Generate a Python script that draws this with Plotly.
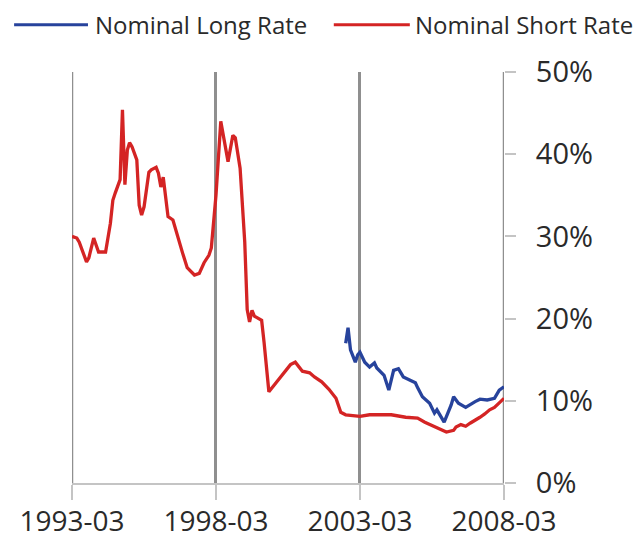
import plotly.graph_objects as go

# Nominal Short Rate (red)
short_dates = [
    "1993-03", "1993-05", "1993-06", "1993-09", "1993-10", "1993-12", "1994-02", "1994-05",
    "1994-07", "1994-08", "1994-09", "1994-11", "1994-12", "1995-01", "1995-02", "1995-03",
    "1995-04", "1995-06", "1995-07", "1995-08", "1995-09", "1995-11", "1995-12", "1996-02",
    "1996-03", "1996-04", "1996-05", "1996-07", "1996-09", "1996-11", "1997-01", "1997-03",
    "1997-06", "1997-08", "1997-10", "1997-12", "1998-01", "1998-03", "1998-05", "1998-08",
    "1998-10", "1998-11", "1999-01", "1999-03", "1999-04", "1999-05", "1999-06", "1999-07",
    "1999-10", "1999-11", "2000-01", "2000-04", "2000-07", "2000-10", "2000-12", "2001-03",
    "2001-06", "2001-08", "2001-11", "2002-02", "2002-05", "2002-07", "2002-09", "2002-12",
    "2003-03", "2003-07", "2003-11", "2004-04", "2004-10", "2005-03", "2005-06", "2005-09",
    "2005-12", "2006-03", "2006-06", "2006-07", "2006-09", "2006-11", "2007-01", "2007-03",
    "2007-05", "2007-07", "2007-09", "2007-11", "2008-01", "2008-03",
]
short_rate = [
    30.0, 29.8, 29.3, 26.9, 27.4, 29.8, 28.1, 28.1,
    31.6, 34.4, 35.3, 36.9, 45.4, 36.3, 40.5, 41.4,
    40.9, 39.3, 33.8, 32.6, 33.6, 37.8, 38.1, 38.4,
    37.7, 36.0, 37.2, 32.4, 32.0, 29.9, 28.0, 26.2,
    25.3, 25.5, 26.8, 27.7, 28.6, 35.0, 44.0, 39.1,
    42.3, 42.0, 38.3, 29.3, 21.1, 19.6, 21.0, 20.3,
    19.8, 17.1, 11.1, 12.2, 13.3, 14.4, 14.7, 13.6,
    13.4, 12.9, 12.3, 11.4, 10.3, 8.6, 8.3, 8.2,
    8.1, 8.3, 8.3, 8.3, 8.0, 7.9, 7.4, 7.0,
    6.7, 6.2, 6.4, 6.8, 7.1, 6.9, 7.3, 7.6,
    8.0, 8.4, 8.9, 9.2, 9.7, 10.3,
]

# Nominal Long Rate (blue)
long_dates = [
    "2002-09", "2002-10", "2002-11", "2003-01", "2003-02", "2003-03", "2003-05", "2003-07",
    "2003-09", "2003-10", "2004-01", "2004-02", "2004-03", "2004-05", "2004-07", "2004-09",
    "2004-12", "2005-02", "2005-03", "2005-05", "2005-08", "2005-10", "2005-11", "2006-02",
    "2006-05", "2006-06", "2006-08", "2006-11", "2007-03", "2007-05", "2007-08", "2007-11",
    "2008-01", "2008-03",
]
long_rate = [
    17.0, 18.9, 16.2, 14.7, 15.6, 15.9, 14.7, 14.1,
    14.6, 14.0, 13.1, 12.2, 11.3, 13.7, 13.9, 12.9,
    12.5, 12.2, 11.6, 10.5, 9.7, 8.5, 8.9, 7.4,
    9.5, 10.5, 9.7, 9.2, 9.9, 10.2, 10.1, 10.3,
    11.3, 11.7,
]

x_ticks = ["1993-03", "1998-03", "2003-03", "2008-03"]
y_ticks = [0, 10, 20, 30, 40, 50]
y_tick_labels = ["0%", "10%", "20%", "30%", "40%", "50%"]

BLUE = "#27439c"
RED = "#d42424"
GRID = "#8f8f8f"
LIGHT = "#c4c4c4"
TEXT = "#2a2a2a"
FONT = "Open Sans"

fig = go.Figure()
fig.add_trace(go.Scatter(x=long_dates, y=long_rate, mode="lines", name="Nominal Long Rate",
                         line=dict(color=BLUE, width=3.3)))
fig.add_trace(go.Scatter(x=short_dates, y=short_rate, mode="lines", name="Nominal Short Rate",
                         line=dict(color=RED, width=3.3)))

# Vertical gridlines at the edge ticks (plotly omits grid lines at the range ends)
for t in (x_ticks[0], x_ticks[-1]):
    fig.add_shape(type="line", xref="x", yref="paper", x0=t, x1=t, y0=0, y1=1,
                  line=dict(color=GRID, width=2.5), layer="below")

# Manual legend (long line samples)
legend_y = 1.115
fig.add_shape(type="line", xref="paper", yref="paper", x0=-0.134, x1=0.037, y0=legend_y, y1=legend_y,
              line=dict(color=BLUE, width=3))
fig.add_annotation(xref="paper", yref="paper", x=0.049, y=legend_y, text="Nominal Long Rate",
                   showarrow=False, xanchor="left", yanchor="middle",
                   font=dict(family=FONT, size=24, color=TEXT))
fig.add_shape(type="line", xref="paper", yref="paper", x0=0.606, x1=0.782, y0=legend_y, y1=legend_y,
              line=dict(color=RED, width=3))
fig.add_annotation(xref="paper", yref="paper", x=0.790, y=legend_y, text="Nominal Short Rate",
                   showarrow=False, xanchor="left", yanchor="middle",
                   font=dict(family=FONT, size=24, color=TEXT))

fig.update_layout(
    width=636, height=533,
    margin=dict(l=64, r=140, t=64, b=58),
    paper_bgcolor="white", plot_bgcolor="white",
    showlegend=False,
    font=dict(family=FONT, color=TEXT),
    xaxis=dict(
        type="date",
        range=["1993-03-01", "2008-03-01"],
        tickvals=x_ticks, ticktext=x_ticks,
        showgrid=True, gridcolor=GRID, gridwidth=2.5,
        showline=True, linecolor=LIGHT, linewidth=2,
        ticks="outside", ticklen=15, tickwidth=2, tickcolor=LIGHT,
        ticklabelstandoff=-3,
        tickfont=dict(family=FONT, size=28, color=TEXT),
        zeroline=False,
        automargin=False,
    ),
    yaxis=dict(
        side="right",
        range=[0, 50],
        tickvals=y_ticks, ticktext=y_tick_labels,
        showgrid=False, zeroline=False, showline=False,
        ticks="outside", ticklen=11, tickwidth=2, tickcolor=LIGHT,
        ticklabelstandoff=14,
        tickfont=dict(family=FONT, size=29, color=TEXT),
        automargin=False,
    ),
)

fig.write_html("out.html")
